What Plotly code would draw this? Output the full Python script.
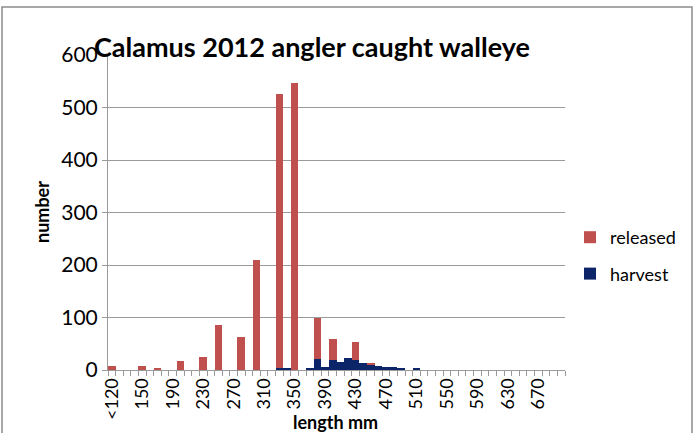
import plotly.graph_objects as go

# length classes (mm), one bar per class
categories = [
    "<120", "120", "130", "140", "150", "160", "170", "180", "190", "200",
    "210", "220", "230", "240", "250", "260", "270", "280", "290", "300",
    "310", "320", "330", "340", "350", "360", "370", "380", "390", "400",
    "410", "420", "430", "440", "450", "460", "470", "480", "490", "500",
    "510", "520", "530", "540", "550", "560", "570", "580", "590", "600",
    "610", "620", "630", "640", "650", "660", "670", "680", "690", "700",
]

harvest = [
    0, 0, 0, 0, 0, 0, 0, 0, 0, 0,
    0, 0, 0, 0, 0, 0, 0, 0, 0, 0,
    0, 0, 3, 2, 0, 0, 4, 21, 6, 19,
    15, 22, 19, 14, 10, 8, 6, 6, 2, 0,
    2, 0, 0, 0, 0, 0, 0, 0, 0, 0,
    0, 0, 0, 0, 0, 0, 0, 0, 0, 0,
]

released = [
    7, 0, 0, 0, 7, 0, 4, 0, 0, 18,
    0, 0, 24, 0, 85, 0, 0, 63, 0, 210,
    0, 0, 522, 0, 547, 0, 0, 79, 0, 41,
    0, 0, 34, 0, 3, 0, 0, 0, 0, 0,
    0, 0, 0, 0, 0, 0, 0, 0, 0, 0,
    0, 0, 0, 0, 0, 0, 0, 0, 0, 0,
]

# only every 4th class gets a label
tick_text = [c if i % 4 == 0 else "" for i, c in enumerate(categories)]

W, H = 699, 433
M = dict(l=108, r=134, t=55, b=63)


def px(x):
    return (x - M["l"]) / (W - M["l"] - M["r"])


def py(y):
    return (H - M["b"] - y) / (H - M["t"] - M["b"])


FONT = "Lato, Carlito, Calibri, sans-serif"
GRID = "#9a9a9a"

fig = go.Figure()

# harvest at the bottom of the stack, released on top
fig.add_trace(go.Bar(
    x=categories, y=harvest, name="harvest",
    marker=dict(color="#0c2468", line=dict(width=0)),
    legendgroup="h", legendrank=2,
))
fig.add_trace(go.Bar(
    x=categories, y=released, name="released",
    marker=dict(color="#c0504d", line=dict(width=0)),
    legendgroup="r", legendrank=1,
))

fig.update_layout(
    width=W, height=H,
    margin=M,
    barmode="stack",
    bargap=0,
    plot_bgcolor="white",
    paper_bgcolor="white",
    font=dict(family=FONT, size=18, color="#000"),
    legend=dict(
        x=px(570), y=py(219), xanchor="left", yanchor="top",
        traceorder="grouped", tracegroupgap=10,
        font=dict(size=18, family=FONT),
        bgcolor="rgba(0,0,0,0)",
    ),
    xaxis=dict(
        type="category",
        tickmode="array", tickvals=categories, ticktext=tick_text,
        tickangle=-90, tickson="boundaries",
        ticks="outside", ticklen=5, tickcolor=GRID,
        showline=True, linecolor=GRID, linewidth=1,
        showgrid=False,
        tickfont=dict(size=18, family=FONT),
    ),
    yaxis=dict(
        range=[0, 600], dtick=100,
        showgrid=True, gridcolor=GRID, gridwidth=1,
        showline=True, linecolor=GRID, linewidth=1,
        ticks="outside", ticklen=5, tickcolor=GRID,
        zeroline=False,
        tickfont=dict(size=21, family=FONT),
    ),
    annotations=[
        dict(text="<b>Calamus 2012 angler caught walleye</b>",
             xref="paper", yref="paper", x=px(92), y=py(46),
             xanchor="left", yanchor="middle", showarrow=False,
             font=dict(size=27, family=FONT, color="#000")),
        dict(text="<b>number</b>", textangle=-90,
             xref="paper", yref="paper", x=px(42), y=py(212),
             xanchor="center", yanchor="middle", showarrow=False,
             font=dict(size=18, family=FONT, color="#000")),
        dict(text="<b>length mm</b>",
             xref="paper", yref="paper", x=px(335), y=py(422),
             xanchor="center", yanchor="middle", showarrow=False,
             font=dict(size=18, family=FONT, color="#000")),
    ],
    shapes=[
        dict(type="rect", xref="paper", yref="paper",
             x0=px(2), x1=px(692), y0=py(445), y1=py(7),
             line=dict(color="#8c8c8c", width=1.5)),
    ],
)

# drop the default page margin so the figure sits at the window's corner
fig.write_html(
    "out.html",
    config={"displayModeBar": False},
    post_script="document.body.style.margin='0px';",
)
